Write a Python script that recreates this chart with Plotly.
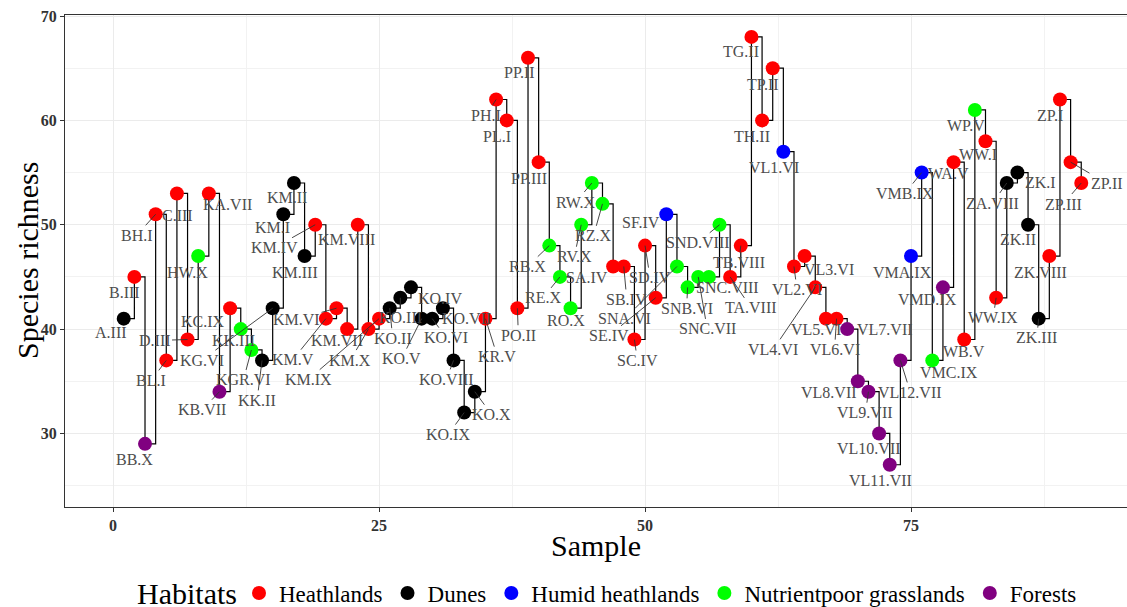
import plotly.graph_objects as go

# ---------------- data ----------------
sample_labels = [
    "A.III", "B.III", "BB.X", "BH.I", "BL.I", "C.III", "D.III", "HW.X", "KA.VII", "KB.VII",
    "KC.IX", "KK.III", "KGR.VI", "KK.II", "KG.VI", "KM.I", "KM.II", "KM.III", "KM.IV", "KM.V",
    "KM.VI", "KM.VII", "KM.VIII", "KM.X", "KM.IX", "KO.II", "KO.III", "KO.IV", "KO.V", "KO.VI",
    "KO.VII", "KO.VIII", "KO.IX", "KO.X", "KR.V", "PH.I", "PL.I", "PO.II", "PP.II", "PP.III",
    "RB.X", "RE.X", "RO.X", "RV.X", "RW.X", "RZ.X", "SA.IV", "SB.IV", "SC.IV", "SD.IV",
    "SE.IV", "SF.IV", "SNA.VI", "SNB.VI", "SNC.VII", "SNC.VIII", "SND.VIII", "TA.VIII", "TB.VIII", "TG.II",
    "TH.II", "TP.II", "VL1.VI", "VL2.VI", "VL3.VI", "VL4.VI", "VL5.VI", "VL6.VI", "VL7.VII", "VL8.VII",
    "VL9.VII", "VL10.VII", "VL11.VII", "VL12.VII", "VMA.IX", "VMB.IX", "VMC.IX", "VMD.IX", "WA.V", "WB.V",
    "WP.V", "WW.I", "WW.IX", "ZA.VIII", "ZK.I", "ZK.II", "ZK.III", "ZK.VIII", "ZP.I", "ZP.II",
    "ZP.III",
]

species_richness = [
    41, 45, 29, 51, 37, 53, 39, 47, 53, 34,
    42, 40, 38, 37, 42, 51, 54, 47, 50, 41,
    42, 40, 50, 40, 41, 42, 43, 44, 41, 41,
    42, 37, 32, 34, 41, 62, 60, 42, 66, 56,
    48, 45, 42, 50, 54, 52, 46, 46, 39, 48,
    43, 51, 46, 44, 45, 45, 50, 45, 48, 68,
    60, 65, 57, 46, 47, 44, 41, 41, 40, 35,
    34, 30, 27, 37, 47, 55, 37, 44, 56, 39,
    61, 58, 43, 54, 55, 50, 41, 47, 62, 56,
    54,
]

H, D, U, N, F = "Heathlands", "Dunes", "Humid heathlands", "Nutrientpoor grasslands", "Forests"
habitat = [
    D, H, F, H, H, H, H, N, H, F,
    H, N, N, D, D, D, D, D, H, H,
    H, H, H, H, H, D, D, D, D, D,
    D, D, D, D, H, H, H, H, H, H,
    N, N, N, N, N, N, H, H, H, H,
    H, U, N, N, N, N, N, H, H, H,
    H, H, U, H, H, H, H, H, F, F,
    F, F, F, F, U, U, N, F, H, H,
    N, H, H, D, D, D, D, H, H, H,
    H,
]

habitat_order = [H, D, U, N, F]
legend_title = "Habitats"
sample_index = list(range(1, len(sample_labels) + 1))

# ---------------- style ----------------
habitat_colors = {H: "#FF0000", D: "#000000", U: "#0000FF", N: "#00FF00", F: "#800080"}

# label placement (pixel offsets from the point, leader line flag) -- styling only
label_offsets = [
    (-13, 14, 0), (-10, 16, 0), (-11, 16, 0), (-19, 21, 1), (-15, 20, 1),
    (1, 22, 0), (-33, 1, 1), (-11, 16, 0), (19, 11, 0), (-17, 18, 1),
    (-27, 13, 0), (-7, 11, 0), (-8, 30, 1), (-5, 40, 1), (-71, 52, 1),
    (-11, 13, 0), (-7, 14, 0), (-10, 16, 0), (-41, 23, 1), (-33, 41, 1),
    (-40, 11, 1), (-10, 11, 0), (-11, 15, 0), (-18, 31, 1), (-71, 61, 1),
    (3, 30, 1), (0, 20, 1), (29, 11, 0), (-20, 40, 1), (14, 19, 1),
    (24, 10, 0), (-7, 19, 1), (-16, 22, 1), (17, 23, 1), (12, 38, 1),
    (-10, 16, 1), (-10, 16, 0), (1, 27, 1), (-9, 15, 0), (-10, 16, 0),
    (-22, 21, 1), (-17, 21, 1), (-5, 12, 0), (-7, 32, 1), (-16, 19, 1),
    (-9, 32, 1), (-26, 11, 0), (3, 33, 1), (3, 21, 1), (5, 32, 1),
    (-47, 38, 1), (-25, 8, 0), (-52, 52, 1), (-1, 21, 1), (9, 52, 1),
    (19, 11, 0), (-22, 18, 1), (21, 31, 1), (-2, 17, 1), (-10, 15, 0),
    (-10, 16, 0), (-10, 16, 0), (-9, 16, 0), (3, 23, 1), (24, 13, 0),
    (-42, 62, 1), (-10, 11, 0), (-2, 31, 1), (38, 0, 0), (-29, 11, 0),
    (-3, 21, 1), (-10, 15, 0), (-9, 16, 0), (10, 32, 1), (-9, 16, 0),
    (-17, 21, 1), (17, 12, 0), (-15, 12, 0), (-5, 11, 0), (0, 12, 0),
    (-9, 16, 0), (-8, 13, 0), (-3, 20, 1), (-14, 20, 1), (23, 10, 0),
    (-10, 15, 0), (-2, 19, 1), (-9, 16, 0), (-10, 16, 0), (36, 21, 1),
    (-18, 21, 1),
]

SERIF = "Liberation Serif, Times New Roman, serif"
LABEL_COLOR = "#4d4d4d"

fig = go.Figure()

# step line connecting consecutive samples
fig.add_trace(go.Scatter(
    x=sample_index, y=species_richness, mode="lines",
    line=dict(shape="hv", color="#000000", width=1.2),
    showlegend=False, hoverinfo="skip",
))

# points by habitat
for hab in habitat_order:
    xs = [x for x, h in zip(sample_index, habitat) if h == hab]
    ys = [y for y, h in zip(species_richness, habitat) if h == hab]
    fig.add_trace(go.Scatter(
        x=xs, y=ys, mode="markers", name=hab,
        marker=dict(color=habitat_colors[hab], size=14, line=dict(width=0)),
    ))

# point labels
annotations = []
for x, y, lab, (dx, dy, lead) in zip(sample_index, species_richness, sample_labels, label_offsets):
    if lead:
        annotations.append(dict(
            x=x, y=y, xref="x", yref="y", text=lab, showarrow=True,
            ax=dx, ay=dy, arrowhead=0, arrowwidth=0.9, arrowcolor="#333333",
            standoff=0, font=dict(family=SERIF, size=16, color=LABEL_COLOR),
        ))
    else:
        annotations.append(dict(
            x=x, y=y, xref="x", yref="y", text=lab, showarrow=False,
            xshift=dx, yshift=-dy, xanchor="center", yanchor="middle",
            font=dict(family=SERIF, size=16, color=LABEL_COLOR),
        ))

# axis titles
annotations.append(dict(
    x=0.5, y=0, xref="paper", yref="paper", text="Sample", showarrow=False,
    yshift=-38, xanchor="center", yanchor="middle",
    font=dict(family=SERIF, size=30, color="#000000"),
))
annotations.append(dict(
    x=0, y=0.5, xref="paper", yref="paper", text="Species richness", showarrow=False,
    xshift=-38, textangle=-90, xanchor="center", yanchor="middle",
    font=dict(family=SERIF, size=30, color="#000000"),
))
# legend title
annotations.append(dict(
    x=0, y=0, xref="paper", yref="paper", xshift=70, yshift=-86,
    text=legend_title, showarrow=False, xanchor="left", yanchor="middle",
    font=dict(family=SERIF, size=30, color="#000000"),
))

fig.update_layout(
    width=1127, height=607,
    margin=dict(l=65, r=0, t=15, b=100, pad=0, autoexpand=False),
    paper_bgcolor="white", plot_bgcolor="white",
    annotations=annotations,
    legend=dict(
        orientation="h", x=239 / 1127, xanchor="left", xref="container",
        y=(607 - 593) / 607, yanchor="middle", yref="container",
        font=dict(family=SERIF, size=23, color="#000000"),
        itemwidth=30, bgcolor="rgba(0,0,0,0)",
    ),
    xaxis=dict(
        range=[-4.52, 95.3], tickvals=[0, 25, 50, 75], automargin=False,
        showgrid=True, gridcolor="#ebebeb", gridwidth=1, zeroline=False,
        showline=True, linecolor="#333333", linewidth=1.2, mirror=True,
        ticks="outside", ticklen=4, tickcolor="#333333", tickwidth=1,
        tickfont=dict(family=SERIF, size=16, color="#333333", weight="bold"),
        minor=dict(tickvals=[12.5, 37.5, 62.5, 87.5], showgrid=True,
                   gridcolor="#f2f2f2", gridwidth=0.6, ticks=""),
    ),
    yaxis=dict(
        range=[22.95, 70.1], tickvals=[30, 40, 50, 60, 70], automargin=False,
        showgrid=True, gridcolor="#ebebeb", gridwidth=1, zeroline=False,
        showline=True, linecolor="#333333", linewidth=1.2, mirror=False,
        ticks="outside", ticklen=4, tickcolor="#333333", tickwidth=1,
        tickfont=dict(family=SERIF, size=16, color="#333333", weight="bold"),
        minor=dict(tickvals=[25, 35, 45, 55, 65], showgrid=True,
                   gridcolor="#f2f2f2", gridwidth=0.6, ticks=""),
    ),
    showlegend=True,
)

fig.write_html(
    "out.html",
    config={"displayModeBar": False},
    post_script="document.body.style.margin='0px';document.body.style.padding='0px';"
                "document.body.style.overflow='hidden';",
)
